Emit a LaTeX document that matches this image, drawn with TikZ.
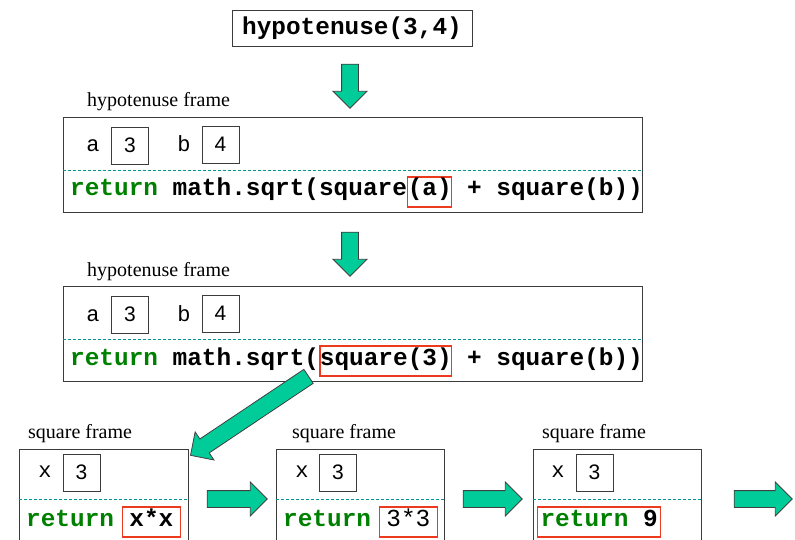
\documentclass[tikz,border=0pt]{standalone}
\usepackage{fontspec}
\setmainfont{Liberation Serif}
\setmonofont{Liberation Mono}
\newfontfamily\numfamily{Liberation Sans}
\usetikzlibrary{calc}
\usetikzlibrary{shapes.arrows}

\definecolor{retgreen}{RGB}{0,128,0}
\definecolor{boxred}{RGB}{236,58,30}
\definecolor{dashteal}{RGB}{0,150,150}
\definecolor{arrowteal}{RGB}{0,204,153}
\definecolor{framegray}{RGB}{60,60,60}

\newcommand{\codefont}{\fontsize{24.4}{28}\selectfont\ttfamily\bfseries}
\newcommand{\varfont}{\fontsize{22}{26}\selectfont\ttfamily}
\newcommand{\numfont}{\fontsize{21}{25}\selectfont\numfamily}
\newcommand{\lblfont}{\fontsize{20}{24}\selectfont\rmfamily}
\newcommand{\ret}{\textcolor{retgreen}{return}}
\newcommand{\blockarrow}[2]{%
  \path let \p1=($(#2)-(#1)$), \n1={atan2(\y1,\x1)}, \n2={veclen(\x1,\y1)} in
    ($(#1)!0.5!(#2)$) node[blockarrow, rotate=\n1, minimum height=\n2] {};}

\begin{document}
\begin{tikzpicture}[x=1pt, y=-1pt,
    framebox/.style={draw=framegray, line width=0.8pt, inner sep=0pt},
    divider/.style={draw=dashteal, line width=0.8pt, dash pattern=on 3pt off 2pt},
    code/.style={anchor=base west, inner sep=0pt, font=\codefont},
    redbox/.style={draw=boxred, line width=1.2pt, inner ysep=3pt,
        text height=16pt, text depth=8pt},
    varname/.style={anchor=base, inner sep=0pt, font=\varfont},
    valbox/.style={draw=framegray, line width=0.8pt, inner sep=0pt,
        minimum width=37pt, minimum height=37pt, font=\numfont},
    lbl/.style={anchor=base west, inner sep=0pt, font=\lblfont},
    blockarrow/.style={single arrow, draw=black!75, line width=0.8pt,
        fill=arrowteal, inner xsep=0pt, inner ysep=8pt, outer sep=0pt,
        single arrow head extend=8.5pt}]
    \useasboundingbox (0,0) rectangle (795,540);
    \clip (0,0) rectangle (795,540);

    % the call
    \node[framebox, minimum width=240pt, minimum height=36pt, font=\codefont]
        (call) at (352,28) {hypotenuse(3,4)};

    % first hypotenuse frame
    \node[lbl] (F1lbl) at (87,107) {hypotenuse frame};
    \node[framebox, minimum width=579pt, minimum height=95pt] (F1) at (352.5,164.5) {};
    \draw[divider] ([yshift=-54pt]F1.north west) -- ([yshift=-54pt]F1.north east);
    \node[varname] (F1a) at (93,152) {a};
    \node[valbox] (F1av) at (130,145.5) {3};
    \node[varname] (F1b) at (184,152) {b};
    \node[valbox] (F1bv) at (220.5,144.5) {4};
    \node[code] (F1ret) at (70,196) {\ret\ math.sqrt(square};
    \node[code, redbox] (F1arg) at (F1ret.base east) {(a)};
    \node[code] (F1rest) at (F1arg.base east) {\ + square(b))};

    % second hypotenuse frame
    \node[lbl] (F2lbl) at (87,276) {hypotenuse frame};
    \node[framebox, minimum width=579pt, minimum height=95pt] (F2) at (352.5,333.5) {};
    \draw[divider] ([yshift=-54pt]F2.north west) -- ([yshift=-54pt]F2.north east);
    \node[varname] (F2a) at (93,321) {a};
    \node[valbox] (F2av) at (130,314.5) {3};
    \node[varname] (F2b) at (184,321) {b};
    \node[valbox] (F2bv) at (220.5,313.5) {4};
    \node[code] (F2ret) at (70,365) {\ret\ math.sqrt(};
    \node[code, redbox] (F2arg) at (F2ret.base east) {square(3)};
    \node[code] (F2rest) at (F2arg.base east) {\ + square(b))};

    % square frames
    \node[lbl] (S1lbl) at (28,438) {square frame};
    \node[framebox, minimum width=169pt, minimum height=100pt] (S1) at (103.5,499) {};
    \draw[divider] ([yshift=-51pt]S1.north west) -- ([yshift=-51pt]S1.north east);
    \node[varname] (S1x) at (45,477) {x};
    \node[valbox] (S1xv) at (81.5,472.5) {3};
    \node[code] (S1ret) at (26,526) {\ret};
    \node[code, redbox, inner xsep=7pt] (S1expr) at ([xshift=7.6pt]S1ret.base east) {x*x};

    \node[lbl] (S2lbl) at (292,438) {square frame};
    \node[framebox, minimum width=168pt, minimum height=100pt] (S2) at (360,499) {};
    \draw[divider] ([yshift=-51pt]S2.north west) -- ([yshift=-51pt]S2.north east);
    \node[varname] (S2x) at (302,477) {x};
    \node[valbox] (S2xv) at (338,472.5) {3};
    \node[code] (S2ret) at (283,526) {\ret};
    \node[code, redbox, inner xsep=7pt] (S2expr) at ([xshift=7.6pt]S2ret.base east) {\mdseries 3*3};

    \node[lbl] (S3lbl) at (542,438) {square frame};
    \node[framebox, minimum width=168pt, minimum height=100pt] (S3) at (617,499) {};
    \draw[divider] ([yshift=-51pt]S3.north west) -- ([yshift=-51pt]S3.north east);
    \node[varname] (S3x) at (558,477) {x};
    \node[valbox] (S3xv) at (594.5,472.5) {3};
    \node[code, redbox, inner xsep=3pt] (S3expr) at (537,526) {\ret\ 9\hspace{9pt}};

    % arrows
    \coordinate (d1s) at (350,60);   \coordinate (d1e) at (350,104);
    \coordinate (d2s) at (350,228);  \coordinate (d2e) at (350,272);
    \coordinate (cs)  at (312,374);  \coordinate (ce)  at (194,453);
    \coordinate (h1s) at (203,499);  \coordinate (h1e) at (263,499);
    \coordinate (h2s) at (459,499);  \coordinate (h2e) at (518,499);
    \coordinate (h3s) at (730,499);  \coordinate (h3e) at (788,499);
    \blockarrow{d1s}{d1e}
    \blockarrow{d2s}{d2e}
    \blockarrow{cs}{ce}
    \blockarrow{h1s}{h1e}
    \blockarrow{h2s}{h2e}
    \blockarrow{h3s}{h3e}
\end{tikzpicture}
\end{document}
